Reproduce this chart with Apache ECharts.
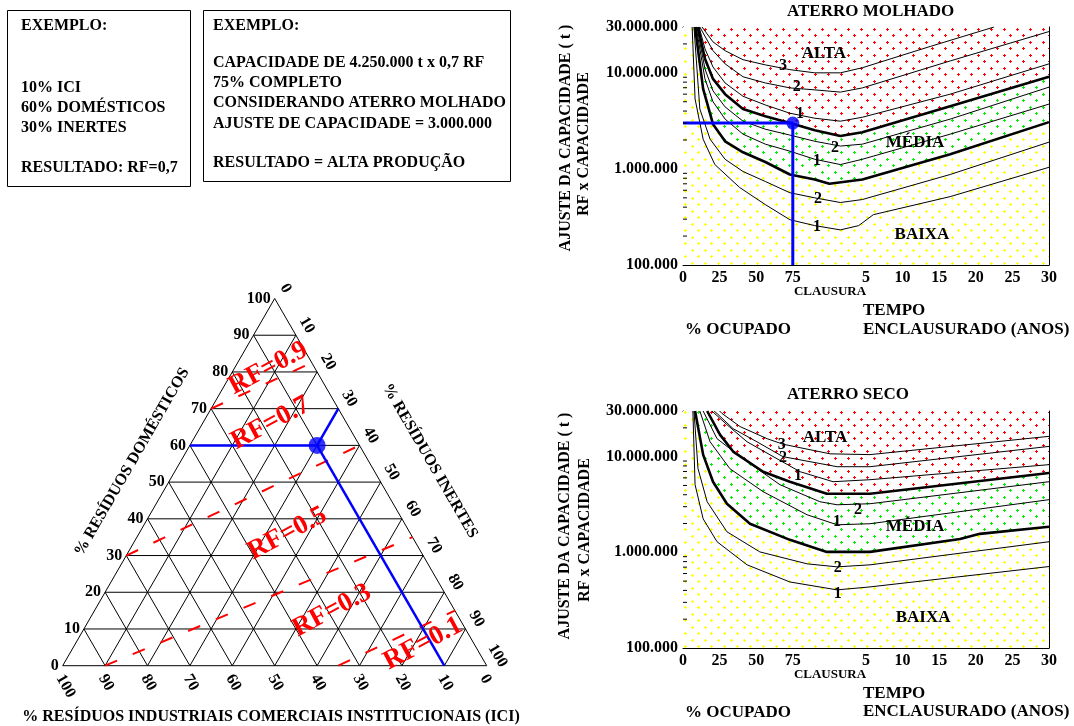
<!DOCTYPE html>
<html><head><meta charset="utf-8">
<script src="https://cdn.jsdelivr.net/npm/echarts@6/dist/echarts.min.js"></script>
<style>html,body{margin:0;padding:0;background:#fff}#c{width:1074px;height:726px}</style>
</head><body><div id="c"></div><script>
// ---------- DATA ----------
const xTickLabels = ['0','25','50','75','','5','10','15','20','25','30'];
const yMinorTicks = [2e5,3e5,4e5,5e5,6e5,7e5,8e5,9e5,2e6,3e6,4e6,5e6,6e6,7e6,8e6,9e6,2e7];
// curves: [position on x axis (0-4 = % ocupado /25, 4-10 = clausura + anos/5), capacity in millions t]
const molhadoA3 = [[0.52,30],[0.82,21],[1.15,17],[1.64,13.7],[2.25,12.1],[2.92,10.8],[3.6,10.0],[4.3,10.0],[4.9,11.3],[6.75,18.8],[8.5,30]];
const molhadoA2 = [[0.46,30],[0.82,17],[1.15,12.4],[1.64,9.1],[2.25,7.85],[2.92,6.97],[3.6,6.65],[4.3,6.3],[4.9,6.97],[7.3,13.3],[10,26.9]];
const molhadoA1 = [[0.44,30],[0.6,17.8],[0.82,11.5],[1.15,7.85],[1.64,5.7],[2.25,4.63],[2.92,3.8],[3.6,3.37],[4.3,3.14],[4.9,3.45],[7.3,6.0],[10,12.4]];
const molhadoT1 = [[0.41,30],[0.6,14.0],[0.82,8.65],[1.15,6.0],[1.64,4.2],[2.25,3.54],[2.92,3.0],[3.6,2.53],[4.3,2.2],[4.9,2.41],[7.3,4.5],[10,9.1]];
const molhadoM2 = [[0.38,30],[0.6,11.0],[0.82,6.5],[1.15,4.42],[1.64,3.14],[2.25,2.59],[2.92,2.25],[3.6,1.94],[4.3,1.73],[4.9,1.81],[7.3,3.3],[10,7.1]];
const molhadoM1 = [[0.36,30],[0.6,8.65],[0.82,5.0],[1.15,3.3],[1.64,2.3],[2.25,1.81],[2.92,1.53],[3.6,1.26],[4.3,1.11],[4.9,1.26],[7.3,2.3],[10,4.73]];
const molhadoT2 = [[0.33,30],[0.55,6.8],[0.82,2.92],[1.15,1.94],[1.64,1.49],[2.25,1.18],[2.92,0.875],[3.6,0.776],[4.0,0.70],[4.9,0.776],[7.3,1.42],[10,3.07]];
const molhadoB2 = [[0.3,30],[0.46,4.2],[0.74,2.04],[1.15,1.26],[1.64,0.94],[2.25,0.74],[2.92,0.565],[3.6,0.50],[4.3,0.447],[4.9,0.48],[7.3,0.875],[10,1.9]];
const molhadoB1 = [[0.25,30],[0.33,5.35],[0.55,2.04],[0.87,1.11],[1.55,0.64],[2.25,0.425],[2.92,0.296],[3.6,0.257],[4.3,0.232],[4.8,0.257],[5.2,0.334],[7.3,0.515],[10,1.04]];

const secoA3 = [[1.0,30],[1.07,28.2],[1.56,20.6],[2.3,15.4],[2.73,13.5],[4.02,10.7],[5.11,10.5],[10,16.3]];
const secoA2 = [[0.85,30],[0.93,28.2],[1.37,19.6],[2.02,14.3],[2.73,10.0],[4.21,7.85],[5.11,7.85],[10,12.8]];
const secoA1 = [[0.79,30],[1.2,21.6],[1.75,14.3],[2.57,9.5],[3.2,6.96],[4.1,5.47],[5.11,5.74],[10,8.25]];
const secoT1 = [[0.66,30],[1.01,17.0],[1.37,11.3],[2.19,6.96],[2.92,5.47],[3.93,4.1],[5.11,4.1],[10,6.74]];
const secoM2 = [[0.55,30],[0.93,15.4],[1.64,9.5],[2.65,5.09],[3.74,3.38],[4.21,3.14],[5.11,3.22],[10,5.47]];
const secoM1 = [[0.46,30],[0.74,14.3],[1.28,7.49],[2.19,4.3],[3.39,2.47],[4.21,1.94],[5.11,1.99],[10,3.55]];
const secoT2 = [[0.33,30],[0.55,10.5],[0.82,5.47],[1.2,3.22],[1.83,1.99],[2.92,1.35],[3.93,1.01],[5.11,1.01],[7.57,1.38],[8.11,1.56],[10,1.85]];
const secoB2 = [[0.3,30],[0.41,7.5],[0.66,3.38],[1.2,1.64],[2.1,1.01],[3.39,0.758],[4.21,0.705],[5.11,0.74],[10,1.29]];
const secoB1 = [[0.27,30],[0.33,5.1],[0.55,2.24],[0.93,1.29],[1.75,0.74],[2.92,0.49],[4.21,0.405],[5.11,0.435],[10,0.71]];

const curveLabelText = ['3','2','1','2','1','2','1'];
const molhadoCurveLabelPos = [[2.73,11.8],[3.11,7.1],[3.2,3.72],[4.15,1.67],[3.66,1.2],[3.69,0.49],[3.66,0.25]];
const secoCurveLabelPos = [[2.70,13.3],[2.73,9.8],[3.14,6.3],[4.78,2.78],[4.21,2.09],[4.23,0.688],[4.23,0.368]];
const regionText = ['ALTA','MÉDIA','BAIXA'];
const molhadoRegionPos = [[3.85,15.8],[6.34,1.9],[6.53,0.206]];
const secoRegionPos = [[3.88,15.8],[6.34,1.85],[6.56,0.206]];
const exampleCapacity = [[0,3],[3,3],[3,0.1]]; // millions t, 75% ocupado
const examplePoint = [3,3];

// ternary: [ICI, DOMESTICOS, INERTES]
const ternaryTicks = [0,10,20,30,40,50,60,70,80,90,100];
const rfLines = [
  [[30,70,0],[0,82.5,17.5]],
  [[70,30,0],[0,60,40]],
  [[90,0,10],[0,35,65]],
  [[35,0,65],[0,15,85]]
];
const rfLabels = ['RF=0.9','RF=0.7','RF=0.5','RF=0.3','RF=0.1'];
const rfLabelPos = [[11,81,8],[18,66,16],[29,36,35],[29,15,56],[12,6,82]];
const exampleTernary = [10,60,30];

// ---------- HELPERS ----------
const FF = '"Liberation Serif","Times New Roman",serif';
const f = (s) => 'bold ' + s + 'px ' + FF;
const SQ = Math.sqrt(3) / 2;
const toXY = (t) => [t[2] + t[1] / 2, t[1] * SQ];
const toT = (arr) => arr.map(p => [p[0], p[1] * 1e6]);
function tile(color) {
  const c = document.createElement('canvas'); c.width = 13; c.height = 13;
  const g = c.getContext('2d'); g.fillStyle = '#fff'; g.fillRect(0, 0, 13, 13);
  g.fillStyle = color;
  [[3, 3], [9, 9]].forEach(([x, y]) => { g.fillRect(x - 1, y, 3, 1); g.fillRect(x, y - 1, 1, 3); });
  return { image: c, repeat: 'repeat' };
}
const fillRed = tile('#ff0000'), fillGreen = tile('#00f000'), fillYellow = tile('#ffff00');
const fmt = (v) => String(Math.round(v)).replace(/\B(?=(\d{3})+(?!\d))/g, '.');

function textSeries(ax, points, texts, opt) {
  return { type: 'custom', xAxisIndex: ax, yAxisIndex: ax, z: opt.z || 8, silent: true, animation: false, clip: false,
    data: points,
    renderItem: (p, api) => {
      const c = api.coord([api.value(0), api.value(1)]);
      return { type: 'text', x: c[0] + (opt.dx || 0), y: c[1] + (opt.dy || 0), rotation: opt.rot || 0,
        style: { text: texts[p.dataIndex], font: opt.font, fill: opt.color || '#000', align: opt.align || 'center', verticalAlign: opt.va || 'middle' } };
    } };
}
function segSeries(segs, style, z) {
  return { type: 'custom', xAxisIndex: 2, yAxisIndex: 2, z: z, silent: true, animation: false, clip: false,
    data: segs.map(s => { const a = toXY(s[0]), b = toXY(s[1]); return [a[0], a[1], b[0], b[1]]; }),
    encode: { x: [0, 2], y: [1, 3] },
    renderItem: (p, api) => {
      const a = api.coord([api.value(0), api.value(1)]), b = api.coord([api.value(2), api.value(3)]);
      return { type: 'line', shape: { x1: a[0], y1: a[1], x2: b[0], y2: b[1] }, style: Object.assign({}, style) };
    } };
}
function chartSeries(g, c, curveLabelPos, regionPos, withExample) {
  const ax = { xAxisIndex: g, yAxisIndex: g, silent: true, animation: false, symbol: 'none' };
  const s = [];
  const area = (data, fill) => Object.assign({ type: 'line', data: toT(data), lineStyle: { width: 0 }, areaStyle: { color: fill, opacity: 1, origin: 'start' }, z: 1 }, ax);
  s.push(area([[0, 30], [10, 30]], fillRed));
  s.push(area([[0, 30]].concat(c.T1), fillGreen));
  s.push(area([[0, 30]].concat(c.T2), fillYellow));
  ['A3', 'A2', 'A1', 'T1', 'M2', 'M1', 'T2', 'B2', 'B1'].forEach(k => {
    s.push(Object.assign({ type: 'line', data: toT(c[k]), lineStyle: { color: '#000', width: k[0] === 'T' ? 2.6 : 1 }, z: 3 }, ax));
  });
  s.push({ type: 'custom', xAxisIndex: g, yAxisIndex: g, z: 9, silent: true, animation: false, clip: false,
    data: yMinorTicks.map(v => [0, v]),
    renderItem: (p, api) => { const pt = api.coord([0, api.value(1)]);
      return { type: 'line', shape: { x1: pt[0], y1: pt[1], x2: pt[0] + 4, y2: pt[1] }, style: { stroke: '#000', lineWidth: 1 } }; } });
  if (withExample) {
    s.push(Object.assign({ type: 'line', data: toT(exampleCapacity), lineStyle: { color: '#0000ff', width: 3 }, z: 5 }, ax));
    s.push({ type: 'scatter', xAxisIndex: g, yAxisIndex: g, silent: true, animation: false, data: toT([examplePoint]), symbolSize: 13, itemStyle: { color: '#0000ff' }, z: 6 });
  }
  s.push(textSeries(g, toT(curveLabelPos), curveLabelText, { font: f(16) }));
  s.push(textSeries(g, toT(regionPos), regionText, { font: f(17) }));
  return s;
}

// ---------- AXES ----------
const xBottom = (g) => ({ gridIndex: g, type: 'value', position: 'bottom', min: 0, max: 10, interval: 1,
  axisLine: { onZero: false, lineStyle: { color: '#000', width: 1 } },
  axisTick: { inside: true, length: 5, lineStyle: { color: '#000' } },
  axisLabel: { formatter: v => xTickLabels[Math.round(v)], fontFamily: FF, fontWeight: 'bold', fontSize: 16, color: '#000', margin: 5 },
  splitLine: { show: false } });
const yLog = (g) => ({ gridIndex: g, type: 'log', logBase: 10, min: 1e5, max: 3e7,
  axisLine: { show: true, onZero: false, lineStyle: { color: '#000', width: 1 } },
  axisTick: { inside: true, length: 6, lineStyle: { color: '#000' } },
  axisLabel: { formatter: fmt, fontFamily: FF, fontWeight: 'bold', fontSize: 16, color: '#000', margin: 5, showMaxLabel: true },
  splitLine: { show: false }, minorTick: { show: false } });
const frameX = (g) => ({ gridIndex: g, type: 'value', position: 'top', min: 0, max: 1, axisLine: { show: true, onZero: false, lineStyle: { color: '#000' } }, axisTick: { show: false }, axisLabel: { show: false }, splitLine: { show: false } });
const frameY = (g) => ({ gridIndex: g, type: 'value', position: 'right', min: 0, max: 1, axisLine: { show: true, onZero: false, lineStyle: { color: '#000' } }, axisTick: { show: false }, axisLabel: { show: false }, splitLine: { show: false } });

// ---------- TERNARY ----------
const gridSegs = [];
ternaryTicks.slice(0, 10).forEach(k => {
  gridSegs.push([[100 - k, k, 0], [0, k, 100 - k]]);   // constant domesticos
  gridSegs.push([[100 - k, 0, k], [0, 100 - k, k]]);   // constant inertes
  gridSegs.push([[k, 0, 100 - k], [k, 100 - k, 0]]);   // constant ICI
});
const ex = exampleTernary;
const blueSegs = [
  [ex, [ex[0] + ex[2], ex[1], 0]],
  [ex, [0, ex[1] + ex[0], ex[2]]],
  [ex, [ex[0], 0, ex[2] + ex[1]]]
];
const leftPts = ternaryTicks.map(d => toXY([100 - d, d, 0]));
const rightPts = ternaryTicks.map(i => toXY([0, 100 - i, i]));
const bottomPts = ternaryTicks.map(c => toXY([c, 0, 100 - c]));
const tickTxt = ternaryTicks.map(String);

const series = []
  .concat(chartSeries(0, { A3: molhadoA3, A2: molhadoA2, A1: molhadoA1, T1: molhadoT1, M2: molhadoM2, M1: molhadoM1, T2: molhadoT2, B2: molhadoB2, B1: molhadoB1 }, molhadoCurveLabelPos, molhadoRegionPos, true))
  .concat(chartSeries(1, { A3: secoA3, A2: secoA2, A1: secoA1, T1: secoT1, M2: secoM2, M1: secoM1, T2: secoT2, B2: secoB2, B1: secoB1 }, secoCurveLabelPos, secoRegionPos, false))
  .concat([
    segSeries(gridSegs, { stroke: '#000', lineWidth: 1 }, 2),
    segSeries(rfLines, { stroke: '#ff0000', lineWidth: 2, lineDash: [13, 17] }, 3),
    segSeries(blueSegs, { stroke: '#0000ff', lineWidth: 2.5 }, 4),
    { type: 'scatter', xAxisIndex: 2, yAxisIndex: 2, silent: true, animation: false, data: [toXY(ex)], symbolSize: 17, itemStyle: { color: '#0000ff' }, z: 5 },
    textSeries(2, leftPts, tickTxt, { font: f(16), align: 'right', dx: -4 }),
    textSeries(2, rightPts, tickTxt, { font: f(16), align: 'center', dx: 11, dy: -10, rot: -Math.PI / 3 }),
    textSeries(2, bottomPts, tickTxt.slice(), { font: f(16), align: 'left', dx: -3, dy: 10, rot: -Math.PI / 3 }),
    textSeries(2, rfLabelPos.map(toXY), rfLabels, { font: f(27), color: '#ff0000', rot: 28 * Math.PI / 180 })
  ]);

// ---------- GRAPHIC TEXT ----------
const T = (text, x, y, size, opt) => Object.assign({ type: 'text', x: x, y: y, z: 20, silent: true,
  style: Object.assign({ text: text, font: f(size), fill: '#000', textAlign: 'left', align: 'left', textVerticalAlign: 'middle', verticalAlign: 'middle' }, (opt && opt.style) || {}) },
  (opt && opt.rot !== undefined) ? { rotation: opt.rot } : {});
const C = { style: { textAlign: 'center', align: 'center' } };
const graphics = [
  { type: 'rect', shape: { x: 7.5, y: 10.5, width: 183, height: 176 }, style: { fill: '#fff', stroke: '#000', lineWidth: 1 } },
  { type: 'rect', shape: { x: 203.5, y: 10.5, width: 307, height: 171 }, style: { fill: '#fff', stroke: '#000', lineWidth: 1 } },
  T('EXEMPLO:', 21, 26, 16), T('10% ICI', 21, 88, 16), T('60% DOMÉSTICOS', 21, 108, 16), T('30% INERTES', 21, 128, 16), T('RESULTADO: RF=0,7', 21, 168, 16),
  T('EXEMPLO:', 213, 26, 16), T('CAPACIDADE DE 4.250.000 t x 0,7 RF', 213, 63, 16), T('75% COMPLETO', 213, 83, 16),
  T('CONSIDERANDO ATERRO MOLHADO', 213, 103, 16), T('AJUSTE DE CAPACIDADE = 3.000.000', 213, 124, 16), T('RESULTADO = ALTA PRODUÇÃO', 213, 163, 16),
  T('ATERRO MOLHADO', 787, 12, 17), T('CLAUSURA', 830, 292, 13, C), T('TEMPO', 863, 311, 17), T('% OCUPADO', 685, 330, 17), T('ENCLAUSURADO (ANOS)', 863, 330, 17),
  T('AJUSTE DA CAPACIDADE ( t )', 566, 138, 16, { rot: Math.PI / 2, style: C.style }), T('RF x CAPACIDADE', 584, 144, 16, { rot: Math.PI / 2, style: C.style }),
  T('ATERRO SECO', 787, 395, 17), T('CLAUSURA', 830, 675, 13, C), T('TEMPO', 863, 694, 17), T('% OCUPADO', 685, 713, 17), T('ENCLAUSURADO (ANOS)', 863, 712, 17),
  T('AJUSTE DA CAPACIDADE ( t )', 565, 526, 16, { rot: Math.PI / 2, style: C.style }), T('RF x CAPACIDADE', 585, 530, 16, { rot: Math.PI / 2, style: C.style }),
  T('% RESÍDUOS DOMÉSTICOS', 132, 462, 16, { rot: Math.PI / 3, style: C.style }),
  T('% RESÍDUOS INERTES', 430, 461, 16, { rot: -Math.PI / 3, style: C.style }),
  T('% RESÍDUOS INDUSTRIAIS COMERCIAIS INSTITUCIONAIS (ICI)', 271, 717, 16, C)
];

const chart = echarts.init(document.getElementById('c'), null, { renderer: 'canvas', width: 1074, height: 726 });
chart.setOption({
  animation: false,
  backgroundColor: '#fff',
  grid: [
    { left: 683, top: 27, width: 366, height: 238 },
    { left: 683, top: 411, width: 366, height: 237 },
    { left: 62.7, top: 298.5, width: 424, height: 367.2 }
  ],
  xAxis: [xBottom(0), xBottom(1), { gridIndex: 2, type: 'value', min: 0, max: 100, show: false }, frameX(0), frameX(1)],
  yAxis: [yLog(0), yLog(1), { gridIndex: 2, type: 'value', min: 0, max: 86.6025, show: false }, frameY(0), frameY(1)],
  series: series,
  graphic: graphics
});
</script></body></html>
